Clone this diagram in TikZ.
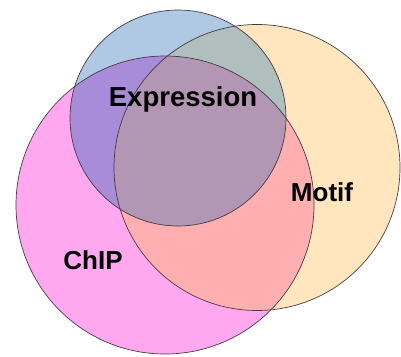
\documentclass[tikz,border=0pt]{standalone}
\usepackage{fontspec}
\setmainfont{Liberation Sans}
\definecolor{cpink}{RGB}{255,168,240}
\definecolor{cblue}{RGB}{175,200,228}
\definecolor{cyellow}{RGB}{255,230,190}
\definecolor{cpurple}{RGB}{168,140,218}
\definecolor{cgray}{RGB}{176,190,190}
\definecolor{csalmon}{RGB}{255,175,175}
\definecolor{cmauve}{RGB}{178,150,180}
\definecolor{cedge}{RGB}{70,60,70}
\tikzset{
  lbl/.style={font=\bfseries\fontsize{26}{26}\selectfont, text=black, anchor=base, inner sep=0pt},
  rim/.style={draw=cedge, line width=0.7pt}
}
\begin{document}
\begin{tikzpicture}[x=1pt,y=-1pt]
\useasboundingbox (0,0) rectangle (401,356);
\def\blue{(178,118) circle (108)}
\def\yel{(257,167.5) circle (143)}
\def\pink{(165,205) circle (149)}
\fill[cyellow] \yel;
\fill[cpink] \pink;
\fill[cblue] \blue;
\begin{scope}\clip \pink; \fill[csalmon] \yel; \end{scope}
\begin{scope}\clip \blue; \fill[cgray] \yel; \end{scope}
\begin{scope}\clip \blue; \fill[cpurple] \pink; \end{scope}
\begin{scope}\clip \blue; \clip \pink; \fill[cmauve] \yel; \end{scope}
\draw[rim] \yel;
\draw[rim] \pink;
\draw[rim] \blue;
\node[lbl, font=\bfseries\fontsize{27.5}{27.5}\selectfont] (expr) at (183,106) {Expression};
\node[lbl] (motif) at (322,201) {Motif};
\node[lbl] (chip) at (93,269) {ChIP};
\end{tikzpicture}
\end{document}
